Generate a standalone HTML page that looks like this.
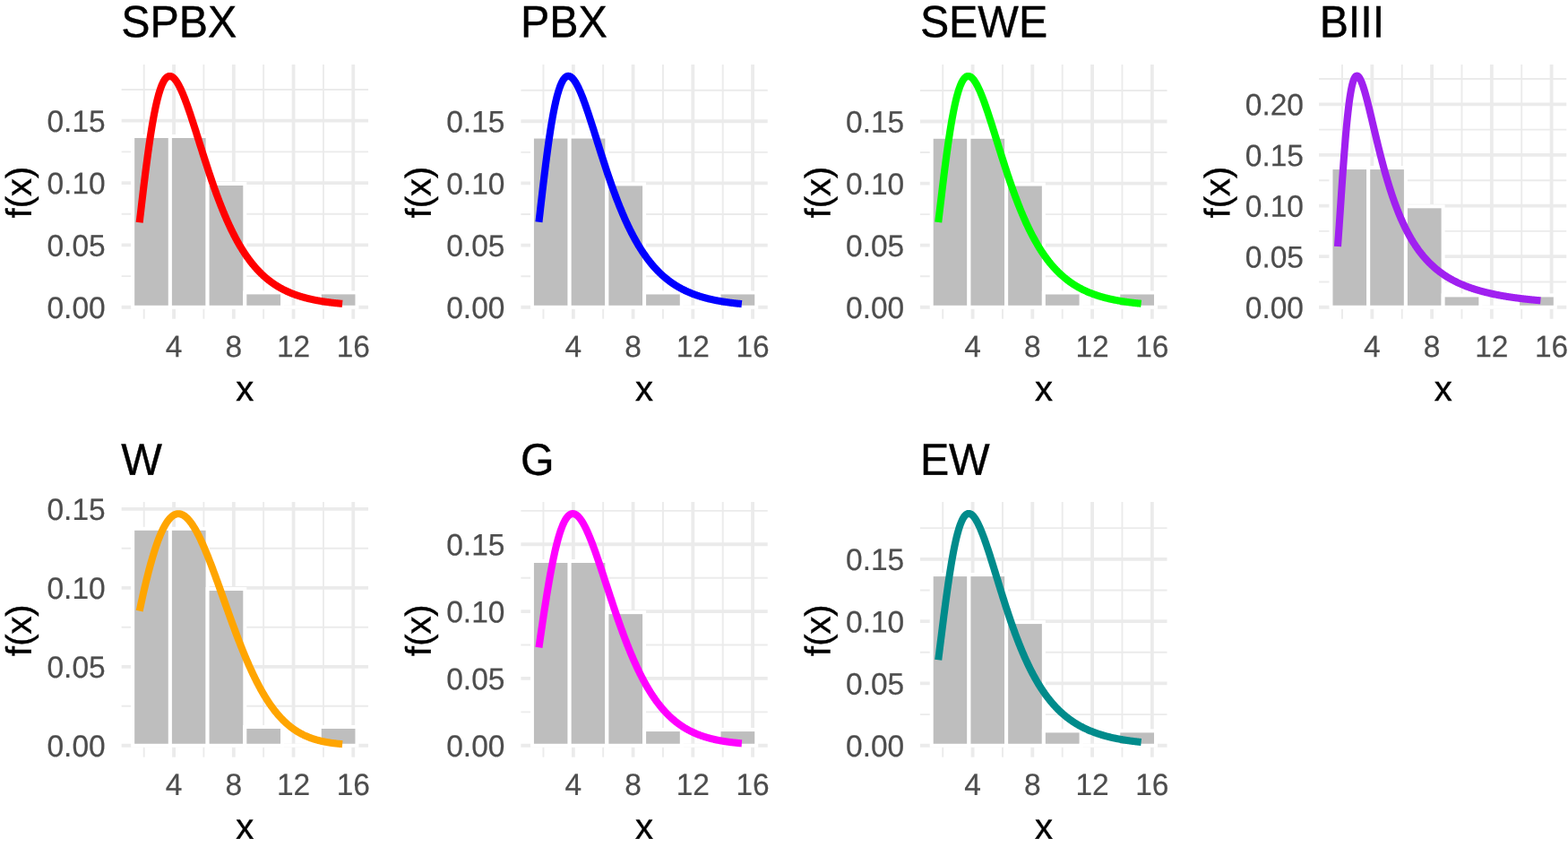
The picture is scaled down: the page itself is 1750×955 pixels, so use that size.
<!DOCTYPE html>
<html lang="en">
<head>
<meta charset="utf-8">
<title>Fitted densities</title>
<style>
html,body{margin:0;padding:0;background:#fff;}
body{width:1750px;height:955px;overflow:hidden;}
svg{display:block;}
text{font-family:"Liberation Sans","DejaVu Sans",sans-serif;}
.t{font-size:48.3px;fill:#000;stroke:#000;stroke-width:0.4px;}
.a{font-size:33.5px;fill:#4D4D4D;stroke:#4D4D4D;stroke-width:0.2px;}
.l{font-size:39.9px;fill:#000;stroke:#000;stroke-width:0.4px;}
</style>
</head>
<body>
<svg width="1750" height="955" viewBox="0 0 1750 955">
<rect width="1750" height="955" fill="#FFFFFF"/>
<g>
<path d="M135.65 308.08H410.97M135.65 238.71H410.97M135.65 169.35H410.97M135.65 99.98H410.97M160.68 72.05V355.65M227.42 72.05V355.65M294.17 72.05V355.65M360.91 72.05V355.65" stroke="#EBEBEB" stroke-width="1.9" fill="none"/>
<path d="M135.65 342.76H410.97M135.65 273.39H410.97M135.65 204.03H410.97M135.65 134.66H410.97M194.05 72.05V355.65M260.79 72.05V355.65M327.54 72.05V355.65M394.28 72.05V355.65" stroke="#EBEBEB" stroke-width="3.8" fill="none"/>
<rect x="148.16" y="152.00" width="41.72" height="190.76" fill="#BEBEBE" stroke="#FFFFFF" stroke-width="4.0"/>
<rect x="189.88" y="152.00" width="41.72" height="190.76" fill="#BEBEBE" stroke="#FFFFFF" stroke-width="4.0"/>
<rect x="231.59" y="205.00" width="41.71" height="137.76" fill="#BEBEBE" stroke="#FFFFFF" stroke-width="4.0"/>
<rect x="273.31" y="326.39" width="41.72" height="16.37" fill="#BEBEBE" stroke="#FFFFFF" stroke-width="4.0"/>
<rect x="356.74" y="326.39" width="41.71" height="16.37" fill="#BEBEBE" stroke="#FFFFFF" stroke-width="4.0"/>
<path d="M315.02 342.76H356.74" stroke="#FFFFFF" stroke-width="4.0" stroke-linecap="square" fill="none"/>
<polyline points="155.67,248.16 156.24,243.35 156.81,238.53 157.37,233.70 157.94,228.88 158.51,224.07 159.08,219.28 159.64,214.52 160.21,209.79 160.78,205.10 161.35,200.46 161.91,195.87 162.48,191.34 163.05,186.88 163.62,182.48 164.18,178.16 164.75,173.91 165.32,169.74 165.89,165.66 166.45,161.67 167.02,157.76 167.59,153.95 168.16,150.24 168.72,146.62 169.29,143.11 169.86,139.69 170.43,136.38 170.99,133.18 171.56,130.08 172.13,127.08 172.70,124.19 173.26,121.41 173.83,118.74 174.40,116.18 174.97,113.72 175.53,111.37 176.10,109.13 176.67,106.99 177.24,104.96 177.80,103.04 178.37,101.22 178.94,99.50 179.51,97.89 180.07,96.38 180.64,94.97 181.21,93.66 181.78,92.45 182.34,91.33 182.91,90.31 183.48,89.38 184.05,88.55 184.61,87.81 185.18,87.15 185.75,86.59 186.32,86.11 186.88,85.71 187.45,85.40 188.02,85.17 188.59,85.02 189.15,84.94 189.72,84.94 190.29,85.02 190.86,85.16 191.42,85.38 191.99,85.67 192.56,86.02 193.13,86.44 193.69,86.92 194.26,87.46 194.83,88.06 195.40,88.72 195.96,89.44 196.53,90.21 197.10,91.03 197.67,91.91 198.23,92.83 198.80,93.80 199.37,94.82 199.94,95.88 200.50,96.99 201.07,98.14 201.64,99.32 202.21,100.55 202.77,101.81 203.34,103.11 203.91,104.44 204.48,105.80 205.04,107.20 205.61,108.62 206.18,110.08 206.75,111.56 207.31,113.06 207.88,114.59 208.45,116.15 209.02,117.72 209.58,119.32 210.15,120.94 210.72,122.57 211.29,124.22 211.85,125.89 212.42,127.57 212.99,129.27 213.56,130.98 214.12,132.71 214.69,134.44 215.26,136.18 215.83,137.94 216.39,139.70 216.96,141.47 217.53,143.25 218.10,145.03 218.66,146.82 219.23,148.61 219.80,150.40 220.37,152.20 220.93,154.00 221.50,155.80 222.07,157.60 222.64,159.41 223.20,161.21 223.77,163.01 224.34,164.81 224.91,166.60 225.47,168.40 226.04,170.19 226.61,171.97 227.18,173.76 227.74,175.53 228.31,177.31 228.88,179.07 229.45,180.83 230.01,182.59 230.58,184.33 231.15,186.07 231.72,187.80 232.28,189.53 232.85,191.24 233.42,192.95 233.99,194.64 234.55,196.33 235.12,198.01 235.69,199.68 236.26,201.34 236.82,202.99 237.39,204.62 237.96,206.25 238.53,207.87 239.09,209.47 239.66,211.07 240.23,212.65 240.80,214.22 241.36,215.78 241.93,217.32 242.50,218.86 243.07,220.38 243.63,221.89 244.20,223.39 244.77,224.87 245.34,226.34 245.90,227.80 246.47,229.25 247.04,230.68 247.61,232.10 248.17,233.51 248.74,234.91 249.31,236.29 249.88,237.66 250.44,239.01 251.01,240.36 251.58,241.69 252.15,243.00 252.71,244.31 253.28,245.60 253.85,246.87 254.42,248.14 254.98,249.39 255.55,250.62 256.12,251.85 256.69,253.06 257.25,254.26 257.82,255.44 258.39,256.62 258.96,257.78 259.52,258.92 260.09,260.06 260.66,261.18 261.23,262.29 261.79,263.38 262.36,264.47 262.93,265.54 263.50,266.60 264.06,267.64 264.63,268.68 265.20,269.70 265.77,270.71 266.33,271.71 266.90,272.69 267.47,273.67 268.04,274.63 268.60,275.58 269.17,276.52 269.74,277.44 270.31,278.36 270.87,279.26 271.44,280.16 272.01,281.04 272.58,281.91 273.14,282.77 273.71,283.62 274.28,284.45 274.85,285.28 275.41,286.10 275.98,286.90 276.55,287.70 277.12,288.48 277.68,289.26 278.25,290.02 278.82,290.78 279.39,291.52 279.95,292.26 280.52,292.98 281.09,293.70 281.66,294.40 282.22,295.10 282.79,295.79 283.36,296.46 283.93,297.13 284.49,297.79 285.06,298.44 285.63,299.08 286.20,299.72 286.76,300.34 287.33,300.96 287.90,301.56 288.47,302.16 289.03,302.75 289.60,303.33 290.17,303.91 290.74,304.47 291.30,305.03 291.87,305.58 292.44,306.12 293.01,306.66 293.57,307.19 294.14,307.71 294.71,308.22 295.28,308.72 295.84,309.22 296.41,309.71 296.98,310.20 297.55,310.67 298.11,311.14 298.68,311.61 299.25,312.06 299.81,312.51 300.38,312.96 300.95,313.40 301.52,313.83 302.08,314.25 302.65,314.67 303.22,315.08 303.79,315.49 304.35,315.89 304.92,316.28 305.49,316.67 306.06,317.06 306.62,317.43 307.19,317.80 307.76,318.17 308.33,318.53 308.89,318.89 309.46,319.24 310.03,319.58 310.60,319.92 311.16,320.26 311.73,320.59 312.30,320.91 312.87,321.24 313.43,321.55 314.00,321.86 314.57,322.17 315.14,322.47 315.70,322.77 316.27,323.06 316.84,323.35 317.41,323.63 317.97,323.91 318.54,324.19 319.11,324.46 319.68,324.73 320.24,324.99 320.81,325.25 321.38,325.51 321.95,325.76 322.51,326.01 323.08,326.25 323.65,326.49 324.22,326.73 324.78,326.96 325.35,327.19 325.92,327.42 326.49,327.64 327.05,327.86 327.62,328.08 328.19,328.29 328.76,328.50 329.32,328.71 329.89,328.91 330.46,329.11 331.03,329.31 331.59,329.50 332.16,329.69 332.73,329.88 333.30,330.07 333.86,330.25 334.43,330.43 335.00,330.61 335.57,330.78 336.13,330.95 336.70,331.12 337.27,331.29 337.84,331.45 338.40,331.62 338.97,331.77 339.54,331.93 340.11,332.09 340.67,332.24 341.24,332.39 341.81,332.53 342.38,332.68 342.94,332.82 343.51,332.96 344.08,333.10 344.65,333.24 345.21,333.37 345.78,333.51 346.35,333.64 346.92,333.77 347.48,333.89 348.05,334.02 348.62,334.14 349.19,334.26 349.75,334.38 350.32,334.50 350.89,334.61 351.46,334.72 352.02,334.84 352.59,334.95 353.16,335.06 353.73,335.16 354.29,335.27 354.86,335.37 355.43,335.47 356.00,335.57 356.56,335.67 357.13,335.77 357.70,335.87 358.27,335.96 358.83,336.05 359.40,336.15 359.97,336.24 360.54,336.32 361.10,336.41 361.67,336.50 362.24,336.58 362.81,336.67 363.37,336.75 363.94,336.83 364.51,336.91 365.08,336.99 365.64,337.07 366.21,337.14 366.78,337.22 367.35,337.29 367.91,337.36 368.48,337.44 369.05,337.51 369.62,337.58 370.18,337.65 370.75,337.71 371.32,337.78 371.89,337.85 372.45,337.91 373.02,337.97 373.59,338.04 374.16,338.10 374.72,338.16 375.29,338.22 375.86,338.28 376.43,338.34 376.99,338.39 377.56,338.45 378.13,338.51 378.70,338.56 379.26,338.61 379.83,338.67 380.40,338.72 380.97,338.77 381.53,338.82 382.10,338.87" fill="none" stroke="#FF0000" stroke-width="8.1" stroke-linejoin="round" stroke-linecap="butt"/>
<text class="t" transform="translate(135.35 41.20) rotate(0.03) scale(1 1.03)">SPBX</text>
<text class="a" text-anchor="end" transform="translate(117.65 355.06) rotate(0.03) scale(1 1.018)">0.00</text>
<text class="a" text-anchor="end" transform="translate(117.65 285.69) rotate(0.03) scale(1 1.018)">0.05</text>
<text class="a" text-anchor="end" transform="translate(117.65 216.33) rotate(0.03) scale(1 1.018)">0.10</text>
<text class="a" text-anchor="end" transform="translate(117.65 146.96) rotate(0.03) scale(1 1.018)">0.15</text>
<text class="a" text-anchor="middle" transform="translate(194.05 398.35) rotate(0.03) scale(1 1.018)">4</text>
<text class="a" text-anchor="middle" transform="translate(260.79 398.35) rotate(0.03) scale(1 1.018)">8</text>
<text class="a" text-anchor="middle" transform="translate(327.54 398.35) rotate(0.03) scale(1 1.018)">12</text>
<text class="a" text-anchor="middle" transform="translate(394.28 398.35) rotate(0.03) scale(1 1.018)">16</text>
<text class="l" text-anchor="middle" transform="translate(273.31 447.05) rotate(0.03) scale(1 1.0)">x</text>
<text class="l" text-anchor="middle" transform="translate(34.85 214.55) rotate(-90.03) scale(1 1.0)">f(x)</text>
</g>
<g>
<path d="M581.42 308.18H856.74M581.42 239.01H856.74M581.42 169.85H856.74M581.42 100.68H856.74M606.45 72.05V355.65M673.19 72.05V355.65M739.94 72.05V355.65M806.68 72.05V355.65" stroke="#EBEBEB" stroke-width="1.9" fill="none"/>
<path d="M581.42 342.76H856.74M581.42 273.59H856.74M581.42 204.43H856.74M581.42 135.27H856.74M639.82 72.05V355.65M706.56 72.05V355.65M773.31 72.05V355.65M840.05 72.05V355.65" stroke="#EBEBEB" stroke-width="3.8" fill="none"/>
<rect x="593.93" y="152.56" width="41.71" height="190.20" fill="#BEBEBE" stroke="#FFFFFF" stroke-width="4.0"/>
<rect x="635.65" y="152.56" width="41.72" height="190.20" fill="#BEBEBE" stroke="#FFFFFF" stroke-width="4.0"/>
<rect x="677.36" y="205.40" width="41.72" height="137.36" fill="#BEBEBE" stroke="#FFFFFF" stroke-width="4.0"/>
<rect x="719.08" y="326.44" width="41.72" height="16.32" fill="#BEBEBE" stroke="#FFFFFF" stroke-width="4.0"/>
<rect x="802.51" y="326.44" width="41.72" height="16.32" fill="#BEBEBE" stroke="#FFFFFF" stroke-width="4.0"/>
<path d="M760.79 342.76H802.51" stroke="#FFFFFF" stroke-width="4.0" stroke-linecap="square" fill="none"/>
<polyline points="601.44,247.74 602.01,242.83 602.58,237.91 603.14,232.97 603.71,228.04 604.28,223.12 604.85,218.23 605.41,213.35 605.98,208.52 606.55,203.72 607.12,198.98 607.68,194.29 608.25,189.66 608.82,185.10 609.39,180.61 609.95,176.20 610.52,171.87 611.09,167.63 611.66,163.48 612.22,159.42 612.79,155.46 613.36,151.60 613.93,147.85 614.49,144.19 615.06,140.65 615.63,137.21 616.20,133.88 616.76,130.66 617.33,127.56 617.90,124.57 618.47,121.69 619.03,118.93 619.60,116.28 620.17,113.74 620.74,111.32 621.30,109.02 621.87,106.82 622.44,104.74 623.01,102.77 623.57,100.91 624.14,99.17 624.71,97.53 625.28,96.00 625.84,94.57 626.41,93.25 626.98,92.03 627.55,90.92 628.11,89.91 628.68,88.99 629.25,88.17 629.82,87.45 630.38,86.82 630.95,86.28 631.52,85.83 632.09,85.47 632.65,85.20 633.22,85.01 633.79,84.90 634.36,84.88 634.92,84.93 635.49,85.05 636.06,85.25 636.63,85.53 637.19,85.87 637.76,86.28 638.33,86.76 638.90,87.30 639.46,87.90 640.03,88.57 640.60,89.29 641.17,90.07 641.73,90.91 642.30,91.80 642.87,92.73 643.44,93.72 644.00,94.76 644.57,95.84 645.14,96.96 645.71,98.13 646.27,99.34 646.84,100.59 647.41,101.87 647.98,103.19 648.54,104.55 649.11,105.94 649.68,107.35 650.25,108.80 650.81,110.28 651.38,111.78 651.95,113.31 652.52,114.86 653.08,116.44 653.65,118.04 654.22,119.66 654.79,121.29 655.35,122.95 655.92,124.62 656.49,126.30 657.06,128.01 657.62,129.72 658.19,131.45 658.76,133.18 659.33,134.93 659.89,136.69 660.46,138.46 661.03,140.23 661.60,142.01 662.16,143.80 662.73,145.59 663.30,147.38 663.87,149.18 664.43,150.98 665.00,152.78 665.57,154.58 666.14,156.39 666.70,158.19 667.27,159.99 667.84,161.80 668.41,163.59 668.97,165.39 669.54,167.18 670.11,168.97 670.68,170.76 671.24,172.54 671.81,174.31 672.38,176.08 672.95,177.85 673.51,179.60 674.08,181.35 674.65,183.10 675.22,184.83 675.78,186.56 676.35,188.28 676.92,189.99 677.49,191.69 678.05,193.38 678.62,195.06 679.19,196.73 679.76,198.39 680.32,200.05 680.89,201.69 681.46,203.32 682.03,204.94 682.59,206.54 683.16,208.14 683.73,209.73 684.30,211.30 684.86,212.86 685.43,214.41 686.00,215.95 686.57,217.47 687.13,218.99 687.70,220.49 688.27,221.98 688.84,223.45 689.40,224.91 689.97,226.36 690.54,227.80 691.11,229.23 691.67,230.64 692.24,232.04 692.81,233.42 693.38,234.80 693.94,236.16 694.51,237.50 695.08,238.84 695.65,240.16 696.21,241.46 696.78,242.76 697.35,244.04 697.92,245.31 698.48,246.56 699.05,247.81 699.62,249.04 700.19,250.25 700.75,251.46 701.32,252.65 701.89,253.83 702.46,254.99 703.02,256.15 703.59,257.29 704.16,258.42 704.73,259.53 705.29,260.63 705.86,261.73 706.43,262.80 707.00,263.87 707.56,264.92 708.13,265.97 708.70,267.00 709.27,268.01 709.83,269.02 710.40,270.01 710.97,271.00 711.54,271.97 712.10,272.93 712.67,273.88 713.24,274.81 713.81,275.74 714.37,276.65 714.94,277.55 715.51,278.45 716.08,279.33 716.64,280.20 717.21,281.06 717.78,281.91 718.35,282.74 718.91,283.57 719.48,284.39 720.05,285.20 720.62,285.99 721.18,286.78 721.75,287.56 722.32,288.33 722.89,289.08 723.45,289.83 724.02,290.57 724.59,291.30 725.16,292.02 725.72,292.73 726.29,293.43 726.86,294.12 727.43,294.80 727.99,295.48 728.56,296.14 729.13,296.80 729.70,297.44 730.26,298.08 730.83,298.71 731.40,299.34 731.97,299.95 732.53,300.55 733.10,301.15 733.67,301.74 734.24,302.32 734.80,302.90 735.37,303.46 735.94,304.02 736.51,304.57 737.07,305.12 737.64,305.65 738.21,306.18 738.78,306.70 739.34,307.22 739.91,307.72 740.48,308.23 741.05,308.72 741.61,309.21 742.18,309.69 742.75,310.16 743.32,310.63 743.88,311.09 744.45,311.54 745.02,311.99 745.58,312.43 746.15,312.87 746.72,313.30 747.29,313.72 747.85,314.14 748.42,314.55 748.99,314.96 749.56,315.36 750.12,315.75 750.69,316.14 751.26,316.52 751.83,316.90 752.39,317.28 752.96,317.64 753.53,318.01 754.10,318.36 754.66,318.72 755.23,319.06 755.80,319.41 756.37,319.74 756.93,320.08 757.50,320.41 758.07,320.73 758.64,321.05 759.20,321.36 759.77,321.67 760.34,321.98 760.91,322.28 761.47,322.58 762.04,322.87 762.61,323.16 763.18,323.44 763.74,323.72 764.31,324.00 764.88,324.27 765.45,324.54 766.01,324.80 766.58,325.07 767.15,325.32 767.72,325.58 768.28,325.83 768.85,326.07 769.42,326.31 769.99,326.55 770.55,326.79 771.12,327.02 771.69,327.25 772.26,327.48 772.82,327.70 773.39,327.92 773.96,328.13 774.53,328.35 775.09,328.56 775.66,328.76 776.23,328.97 776.80,329.17 777.36,329.36 777.93,329.56 778.50,329.75 779.07,329.94 779.63,330.13 780.20,330.31 780.77,330.49 781.34,330.67 781.90,330.85 782.47,331.02 783.04,331.19 783.61,331.36 784.17,331.53 784.74,331.69 785.31,331.85 785.88,332.01 786.44,332.17 787.01,332.32 787.58,332.47 788.15,332.62 788.71,332.77 789.28,332.91 789.85,333.06 790.42,333.20 790.98,333.34 791.55,333.48 792.12,333.61 792.69,333.74 793.25,333.88 793.82,334.00 794.39,334.13 794.96,334.26 795.52,334.38 796.09,334.50 796.66,334.62 797.23,334.74 797.79,334.86 798.36,334.97 798.93,335.09 799.50,335.20 800.06,335.31 800.63,335.42 801.20,335.52 801.77,335.63 802.33,335.73 802.90,335.83 803.47,335.93 804.04,336.03 804.60,336.13 805.17,336.23 805.74,336.32 806.31,336.42 806.87,336.51 807.44,336.60 808.01,336.69 808.58,336.78 809.14,336.86 809.71,336.95 810.28,337.03 810.85,337.12 811.41,337.20 811.98,337.28 812.55,337.36 813.12,337.44 813.68,337.51 814.25,337.59 814.82,337.66 815.39,337.74 815.95,337.81 816.52,337.88 817.09,337.95 817.66,338.02 818.22,338.09 818.79,338.16 819.36,338.23 819.93,338.29 820.49,338.36 821.06,338.42 821.63,338.48 822.20,338.54 822.76,338.61 823.33,338.67 823.90,338.73 824.47,338.78 825.03,338.84 825.60,338.90 826.17,338.95 826.74,339.01 827.30,339.06 827.87,339.12" fill="none" stroke="#0000FF" stroke-width="8.1" stroke-linejoin="round" stroke-linecap="butt"/>
<text class="t" transform="translate(581.12 41.20) rotate(0.03) scale(1 1.03)">PBX</text>
<text class="a" text-anchor="end" transform="translate(563.42 355.06) rotate(0.03) scale(1 1.018)">0.00</text>
<text class="a" text-anchor="end" transform="translate(563.42 285.89) rotate(0.03) scale(1 1.018)">0.05</text>
<text class="a" text-anchor="end" transform="translate(563.42 216.73) rotate(0.03) scale(1 1.018)">0.10</text>
<text class="a" text-anchor="end" transform="translate(563.42 147.57) rotate(0.03) scale(1 1.018)">0.15</text>
<text class="a" text-anchor="middle" transform="translate(639.82 398.35) rotate(0.03) scale(1 1.018)">4</text>
<text class="a" text-anchor="middle" transform="translate(706.56 398.35) rotate(0.03) scale(1 1.018)">8</text>
<text class="a" text-anchor="middle" transform="translate(773.31 398.35) rotate(0.03) scale(1 1.018)">12</text>
<text class="a" text-anchor="middle" transform="translate(840.05 398.35) rotate(0.03) scale(1 1.018)">16</text>
<text class="l" text-anchor="middle" transform="translate(719.08 447.05) rotate(0.03) scale(1 1.0)">x</text>
<text class="l" text-anchor="middle" transform="translate(480.62 214.55) rotate(-90.03) scale(1 1.0)">f(x)</text>
</g>
<g>
<path d="M1026.89 308.22H1302.51M1026.89 239.14H1302.51M1026.89 170.06H1302.51M1026.89 100.98H1302.51M1052.22 72.05V355.65M1118.96 72.05V355.65M1185.71 72.05V355.65M1252.45 72.05V355.65" stroke="#EBEBEB" stroke-width="1.9" fill="none"/>
<path d="M1026.89 342.76H1302.51M1026.89 273.68H1302.51M1026.89 204.60H1302.51M1026.89 135.52H1302.51M1085.59 72.05V355.65M1152.33 72.05V355.65M1219.08 72.05V355.65M1285.82 72.05V355.65" stroke="#EBEBEB" stroke-width="3.8" fill="none"/>
<rect x="1039.70" y="152.79" width="41.72" height="189.97" fill="#BEBEBE" stroke="#FFFFFF" stroke-width="4.0"/>
<rect x="1081.42" y="152.79" width="41.71" height="189.97" fill="#BEBEBE" stroke="#FFFFFF" stroke-width="4.0"/>
<rect x="1123.13" y="205.57" width="41.71" height="137.19" fill="#BEBEBE" stroke="#FFFFFF" stroke-width="4.0"/>
<rect x="1164.85" y="326.46" width="41.72" height="16.30" fill="#BEBEBE" stroke="#FFFFFF" stroke-width="4.0"/>
<rect x="1248.28" y="326.46" width="41.72" height="16.30" fill="#BEBEBE" stroke="#FFFFFF" stroke-width="4.0"/>
<path d="M1206.56 342.76H1248.28" stroke="#FFFFFF" stroke-width="4.0" stroke-linecap="square" fill="none"/>
<polyline points="1047.21,248.01 1047.78,243.26 1048.35,238.50 1048.91,233.73 1049.48,228.95 1050.05,224.19 1050.62,219.43 1051.18,214.70 1051.75,209.99 1052.32,205.32 1052.89,200.69 1053.45,196.11 1054.02,191.58 1054.59,187.11 1055.16,182.71 1055.72,178.37 1056.29,174.11 1056.86,169.92 1057.43,165.82 1057.99,161.80 1058.56,157.87 1059.13,154.03 1059.70,150.28 1060.26,146.64 1060.83,143.09 1061.40,139.64 1061.97,136.30 1062.53,133.06 1063.10,129.92 1063.67,126.90 1064.24,123.98 1064.80,121.17 1065.37,118.47 1065.94,115.88 1066.51,113.40 1067.07,111.03 1067.64,108.77 1068.21,106.61 1068.78,104.57 1069.34,102.64 1069.91,100.81 1070.48,99.09 1071.05,97.47 1071.61,95.96 1072.18,94.55 1072.75,93.25 1073.32,92.05 1073.88,90.94 1074.45,89.94 1075.02,89.03 1075.59,88.22 1076.15,87.50 1076.72,86.88 1077.29,86.34 1077.86,85.89 1078.42,85.53 1078.99,85.26 1079.56,85.07 1080.13,84.96 1080.69,84.93 1081.26,84.98 1081.83,85.10 1082.40,85.30 1082.96,85.57 1083.53,85.91 1084.10,86.32 1084.67,86.79 1085.23,87.33 1085.80,87.93 1086.37,88.60 1086.94,89.32 1087.50,90.10 1088.07,90.93 1088.64,91.82 1089.21,92.76 1089.77,93.75 1090.34,94.79 1090.91,95.87 1091.48,97.00 1092.04,98.17 1092.61,99.38 1093.18,100.63 1093.75,101.92 1094.31,103.25 1094.88,104.61 1095.45,106.01 1096.02,107.43 1096.58,108.89 1097.15,110.38 1097.72,111.89 1098.29,113.43 1098.85,114.99 1099.42,116.58 1099.99,118.19 1100.56,119.82 1101.12,121.47 1101.69,123.14 1102.26,124.82 1102.83,126.53 1103.39,128.24 1103.96,129.97 1104.53,131.71 1105.10,133.47 1105.66,135.23 1106.23,137.01 1106.80,138.79 1107.37,140.58 1107.93,142.38 1108.50,144.18 1109.07,145.99 1109.64,147.80 1110.20,149.62 1110.77,151.44 1111.34,153.26 1111.91,155.08 1112.47,156.90 1113.04,158.72 1113.61,160.54 1114.18,162.36 1114.74,164.18 1115.31,165.99 1115.88,167.81 1116.45,169.61 1117.01,171.42 1117.58,173.21 1118.15,175.01 1118.72,176.79 1119.28,178.57 1119.85,180.35 1120.42,182.11 1120.99,183.87 1121.55,185.62 1122.12,187.37 1122.69,189.10 1123.26,190.82 1123.82,192.54 1124.39,194.25 1124.96,195.94 1125.53,197.63 1126.09,199.30 1126.66,200.97 1127.23,202.62 1127.80,204.26 1128.36,205.90 1128.93,207.52 1129.50,209.12 1130.07,210.72 1130.63,212.30 1131.20,213.88 1131.77,215.44 1132.34,216.98 1132.90,218.52 1133.47,220.04 1134.04,221.55 1134.61,223.04 1135.17,224.53 1135.74,226.00 1136.31,227.45 1136.88,228.90 1137.44,230.33 1138.01,231.74 1138.58,233.15 1139.15,234.54 1139.71,235.92 1140.28,237.28 1140.85,238.63 1141.42,239.97 1141.98,241.29 1142.55,242.60 1143.12,243.90 1143.69,245.18 1144.25,246.45 1144.82,247.71 1145.39,248.95 1145.96,250.18 1146.52,251.40 1147.09,252.60 1147.66,253.79 1148.23,254.97 1148.79,256.13 1149.36,257.28 1149.93,258.42 1150.50,259.55 1151.06,260.66 1151.63,261.76 1152.20,262.85 1152.77,263.92 1153.33,264.98 1153.90,266.03 1154.47,267.07 1155.04,268.09 1155.60,269.11 1156.17,270.11 1156.74,271.10 1157.31,272.07 1157.87,273.04 1158.44,273.99 1159.01,274.93 1159.58,275.86 1160.14,276.78 1160.71,277.69 1161.28,278.58 1161.85,279.47 1162.41,280.34 1162.98,281.20 1163.55,282.05 1164.12,282.89 1164.68,283.72 1165.25,284.54 1165.82,285.35 1166.39,286.15 1166.95,286.94 1167.52,287.72 1168.09,288.48 1168.66,289.24 1169.22,289.99 1169.79,290.73 1170.36,291.46 1170.93,292.17 1171.49,292.88 1172.06,293.58 1172.63,294.27 1173.20,294.96 1173.76,295.63 1174.33,296.29 1174.90,296.94 1175.47,297.59 1176.03,298.23 1176.60,298.86 1177.17,299.47 1177.74,300.09 1178.30,300.69 1178.87,301.28 1179.44,301.87 1180.01,302.45 1180.57,303.02 1181.14,303.58 1181.71,304.14 1182.28,304.69 1182.84,305.23 1183.41,305.76 1183.98,306.28 1184.55,306.80 1185.11,307.31 1185.68,307.81 1186.25,308.31 1186.82,308.80 1187.38,309.28 1187.95,309.76 1188.52,310.23 1189.09,310.69 1189.65,311.15 1190.22,311.60 1190.79,312.04 1191.35,312.48 1191.92,312.91 1192.49,313.33 1193.06,313.75 1193.62,314.17 1194.19,314.57 1194.76,314.97 1195.33,315.37 1195.89,315.76 1196.46,316.14 1197.03,316.52 1197.60,316.90 1198.16,317.27 1198.73,317.63 1199.30,317.99 1199.87,318.34 1200.43,318.69 1201.00,319.03 1201.57,319.37 1202.14,319.70 1202.70,320.03 1203.27,320.35 1203.84,320.67 1204.41,320.98 1204.97,321.29 1205.54,321.60 1206.11,321.90 1206.68,322.20 1207.24,322.49 1207.81,322.78 1208.38,323.06 1208.95,323.34 1209.51,323.62 1210.08,323.89 1210.65,324.16 1211.22,324.42 1211.78,324.68 1212.35,324.94 1212.92,325.19 1213.49,325.44 1214.05,325.68 1214.62,325.92 1215.19,326.16 1215.76,326.40 1216.32,326.63 1216.89,326.86 1217.46,327.08 1218.03,327.30 1218.59,327.52 1219.16,327.74 1219.73,327.95 1220.30,328.16 1220.86,328.36 1221.43,328.57 1222.00,328.77 1222.57,328.96 1223.13,329.16 1223.70,329.35 1224.27,329.54 1224.84,329.72 1225.40,329.91 1225.97,330.09 1226.54,330.26 1227.11,330.44 1227.67,330.61 1228.24,330.78 1228.81,330.95 1229.38,331.11 1229.94,331.28 1230.51,331.44 1231.08,331.60 1231.65,331.75 1232.21,331.91 1232.78,332.06 1233.35,332.21 1233.92,332.35 1234.48,332.50 1235.05,332.64 1235.62,332.78 1236.19,332.92 1236.75,333.06 1237.32,333.19 1237.89,333.32 1238.46,333.45 1239.02,333.58 1239.59,333.71 1240.16,333.83 1240.73,333.96 1241.29,334.08 1241.86,334.20 1242.43,334.32 1243.00,334.43 1243.56,334.55 1244.13,334.66 1244.70,334.77 1245.27,334.88 1245.83,334.99 1246.40,335.10 1246.97,335.20 1247.54,335.31 1248.10,335.41 1248.67,335.51 1249.24,335.61 1249.81,335.70 1250.37,335.80 1250.94,335.90 1251.51,335.99 1252.08,336.08 1252.64,336.17 1253.21,336.26 1253.78,336.35 1254.35,336.44 1254.91,336.52 1255.48,336.61 1256.05,336.69 1256.62,336.77 1257.18,336.85 1257.75,336.93 1258.32,337.01 1258.89,337.09 1259.45,337.17 1260.02,337.24 1260.59,337.31 1261.16,337.39 1261.72,337.46 1262.29,337.53 1262.86,337.60 1263.43,337.67 1263.99,337.74 1264.56,337.81 1265.13,337.87 1265.70,337.94 1266.26,338.00 1266.83,338.06 1267.40,338.13 1267.97,338.19 1268.53,338.25 1269.10,338.31 1269.67,338.37 1270.24,338.43 1270.80,338.48 1271.37,338.54 1271.94,338.59 1272.51,338.65 1273.07,338.70 1273.64,338.76" fill="none" stroke="#00FF00" stroke-width="8.1" stroke-linejoin="round" stroke-linecap="butt"/>
<text class="t" transform="translate(1026.89 41.20) rotate(0.03) scale(1 1.03)">SEWE</text>
<text class="a" text-anchor="end" transform="translate(1009.19 355.06) rotate(0.03) scale(1 1.018)">0.00</text>
<text class="a" text-anchor="end" transform="translate(1009.19 285.98) rotate(0.03) scale(1 1.018)">0.05</text>
<text class="a" text-anchor="end" transform="translate(1009.19 216.90) rotate(0.03) scale(1 1.018)">0.10</text>
<text class="a" text-anchor="end" transform="translate(1009.19 147.82) rotate(0.03) scale(1 1.018)">0.15</text>
<text class="a" text-anchor="middle" transform="translate(1085.59 398.35) rotate(0.03) scale(1 1.018)">4</text>
<text class="a" text-anchor="middle" transform="translate(1152.33 398.35) rotate(0.03) scale(1 1.018)">8</text>
<text class="a" text-anchor="middle" transform="translate(1219.08 398.35) rotate(0.03) scale(1 1.018)">12</text>
<text class="a" text-anchor="middle" transform="translate(1285.82 398.35) rotate(0.03) scale(1 1.018)">16</text>
<text class="l" text-anchor="middle" transform="translate(1164.85 447.05) rotate(0.03) scale(1 1.0)">x</text>
<text class="l" text-anchor="middle" transform="translate(926.39 214.55) rotate(-90.03) scale(1 1.0)">f(x)</text>
</g>
<g>
<path d="M1472.06 314.45H1748.28M1472.06 257.84H1748.28M1472.06 201.22H1748.28M1472.06 144.60H1748.28M1472.06 87.99H1748.28M1497.99 72.05V355.65M1564.73 72.05V355.65M1631.48 72.05V355.65M1698.22 72.05V355.65" stroke="#EBEBEB" stroke-width="1.9" fill="none"/>
<path d="M1472.06 342.76H1748.28M1472.06 286.14H1748.28M1472.06 229.53H1748.28M1472.06 172.91H1748.28M1472.06 116.29H1748.28M1531.36 72.05V355.65M1598.10 72.05V355.65M1664.85 72.05V355.65M1731.59 72.05V355.65" stroke="#EBEBEB" stroke-width="3.8" fill="none"/>
<rect x="1485.47" y="187.06" width="41.72" height="155.69" fill="#BEBEBE" stroke="#FFFFFF" stroke-width="4.0"/>
<rect x="1527.19" y="187.06" width="41.71" height="155.69" fill="#BEBEBE" stroke="#FFFFFF" stroke-width="4.0"/>
<rect x="1568.90" y="230.32" width="41.71" height="112.44" fill="#BEBEBE" stroke="#FFFFFF" stroke-width="4.0"/>
<rect x="1610.62" y="329.40" width="41.72" height="13.36" fill="#BEBEBE" stroke="#FFFFFF" stroke-width="4.0"/>
<rect x="1694.05" y="329.40" width="41.72" height="13.36" fill="#BEBEBE" stroke="#FFFFFF" stroke-width="4.0"/>
<path d="M1652.33 342.76H1694.05" stroke="#FFFFFF" stroke-width="4.0" stroke-linecap="square" fill="none"/>
<polyline points="1492.98,274.94 1493.55,267.26 1494.12,259.33 1494.68,251.21 1495.25,242.96 1495.82,234.61 1496.39,226.23 1496.95,217.86 1497.52,209.55 1498.09,201.33 1498.66,193.25 1499.22,185.35 1499.79,177.66 1500.36,170.20 1500.93,162.99 1501.49,156.08 1502.06,149.45 1502.63,143.15 1503.20,137.17 1503.76,131.52 1504.33,126.21 1504.90,121.24 1505.47,116.61 1506.03,112.33 1506.60,108.39 1507.17,104.78 1507.74,101.50 1508.30,98.55 1508.87,95.91 1509.44,93.57 1510.01,91.53 1510.57,89.78 1511.14,88.30 1511.71,87.08 1512.28,86.12 1512.84,85.41 1513.41,84.92 1513.98,84.66 1514.55,84.60 1515.11,84.74 1515.68,85.07 1516.25,85.57 1516.82,86.24 1517.38,87.07 1517.95,88.04 1518.52,89.15 1519.09,90.39 1519.65,91.74 1520.22,93.21 1520.79,94.78 1521.36,96.44 1521.92,98.19 1522.49,100.02 1523.06,101.93 1523.63,103.90 1524.19,105.93 1524.76,108.01 1525.33,110.15 1525.90,112.33 1526.46,114.55 1527.03,116.80 1527.60,119.08 1528.17,121.39 1528.73,123.72 1529.30,126.07 1529.87,128.43 1530.44,130.81 1531.00,133.19 1531.57,135.58 1532.14,137.98 1532.71,140.37 1533.27,142.76 1533.84,145.15 1534.41,147.54 1534.98,149.91 1535.54,152.28 1536.11,154.64 1536.68,156.98 1537.25,159.31 1537.81,161.63 1538.38,163.93 1538.95,166.21 1539.52,168.48 1540.08,170.73 1540.65,172.96 1541.22,175.16 1541.79,177.35 1542.35,179.52 1542.92,181.66 1543.49,183.78 1544.06,185.88 1544.62,187.96 1545.19,190.01 1545.76,192.04 1546.33,194.04 1546.89,196.03 1547.46,197.98 1548.03,199.92 1548.60,201.83 1549.16,203.71 1549.73,205.57 1550.30,207.41 1550.87,209.22 1551.43,211.01 1552.00,212.78 1552.57,214.52 1553.14,216.24 1553.70,217.93 1554.27,219.60 1554.84,221.25 1555.41,222.87 1555.97,224.47 1556.54,226.05 1557.11,227.61 1557.68,229.14 1558.24,230.65 1558.81,232.14 1559.38,233.61 1559.95,235.06 1560.51,236.48 1561.08,237.89 1561.65,239.27 1562.22,240.64 1562.78,241.98 1563.35,243.30 1563.92,244.61 1564.49,245.89 1565.05,247.16 1565.62,248.40 1566.19,249.63 1566.76,250.84 1567.32,252.03 1567.89,253.20 1568.46,254.36 1569.03,255.50 1569.59,256.62 1570.16,257.72 1570.73,258.81 1571.30,259.88 1571.86,260.94 1572.43,261.98 1573.00,263.00 1573.57,264.01 1574.13,265.01 1574.70,265.98 1575.27,266.95 1575.84,267.90 1576.40,268.83 1576.97,269.76 1577.54,270.66 1578.11,271.56 1578.67,272.44 1579.24,273.30 1579.81,274.16 1580.38,275.00 1580.94,275.83 1581.51,276.65 1582.08,277.45 1582.65,278.25 1583.21,279.03 1583.78,279.80 1584.35,280.56 1584.92,281.30 1585.48,282.04 1586.05,282.76 1586.62,283.48 1587.19,284.18 1587.75,284.88 1588.32,285.56 1588.89,286.24 1589.46,286.90 1590.02,287.55 1590.59,288.20 1591.16,288.83 1591.73,289.46 1592.29,290.08 1592.86,290.69 1593.43,291.29 1594.00,291.88 1594.56,292.46 1595.13,293.04 1595.70,293.60 1596.27,294.16 1596.83,294.71 1597.40,295.25 1597.97,295.79 1598.54,296.32 1599.10,296.84 1599.67,297.35 1600.24,297.86 1600.81,298.35 1601.37,298.85 1601.94,299.33 1602.51,299.81 1603.08,300.28 1603.64,300.75 1604.21,301.20 1604.78,301.66 1605.35,302.10 1605.91,302.54 1606.48,302.98 1607.05,303.41 1607.62,303.83 1608.18,304.24 1608.75,304.65 1609.32,305.06 1609.89,305.46 1610.45,305.85 1611.02,306.24 1611.59,306.63 1612.16,307.01 1612.72,307.38 1613.29,307.75 1613.86,308.11 1614.43,308.47 1614.99,308.83 1615.56,309.18 1616.13,309.52 1616.70,309.86 1617.26,310.20 1617.83,310.53 1618.40,310.86 1618.97,311.18 1619.53,311.50 1620.10,311.82 1620.67,312.13 1621.24,312.44 1621.80,312.74 1622.37,313.04 1622.94,313.33 1623.51,313.63 1624.07,313.91 1624.64,314.20 1625.21,314.48 1625.78,314.76 1626.34,315.03 1626.91,315.30 1627.48,315.57 1628.05,315.83 1628.61,316.09 1629.18,316.35 1629.75,316.60 1630.32,316.85 1630.88,317.10 1631.45,317.35 1632.02,317.59 1632.59,317.83 1633.15,318.06 1633.72,318.30 1634.29,318.53 1634.86,318.75 1635.42,318.98 1635.99,319.20 1636.56,319.42 1637.12,319.64 1637.69,319.85 1638.26,320.06 1638.83,320.27 1639.39,320.48 1639.96,320.68 1640.53,320.88 1641.10,321.08 1641.66,321.28 1642.23,321.47 1642.80,321.67 1643.37,321.86 1643.93,322.05 1644.50,322.23 1645.07,322.41 1645.64,322.60 1646.20,322.78 1646.77,322.95 1647.34,323.13 1647.91,323.30 1648.47,323.47 1649.04,323.64 1649.61,323.81 1650.18,323.98 1650.74,324.14 1651.31,324.30 1651.88,324.46 1652.45,324.62 1653.01,324.78 1653.58,324.93 1654.15,325.08 1654.72,325.24 1655.28,325.39 1655.85,325.53 1656.42,325.68 1656.99,325.82 1657.55,325.97 1658.12,326.11 1658.69,326.25 1659.26,326.39 1659.82,326.52 1660.39,326.66 1660.96,326.79 1661.53,326.93 1662.09,327.06 1662.66,327.19 1663.23,327.32 1663.80,327.44 1664.36,327.57 1664.93,327.69 1665.50,327.82 1666.07,327.94 1666.63,328.06 1667.20,328.18 1667.77,328.30 1668.34,328.41 1668.90,328.53 1669.47,328.64 1670.04,328.76 1670.61,328.87 1671.17,328.98 1671.74,329.09 1672.31,329.20 1672.88,329.30 1673.44,329.41 1674.01,329.51 1674.58,329.62 1675.15,329.72 1675.71,329.82 1676.28,329.92 1676.85,330.02 1677.42,330.12 1677.98,330.22 1678.55,330.32 1679.12,330.41 1679.69,330.51 1680.25,330.60 1680.82,330.70 1681.39,330.79 1681.96,330.88 1682.52,330.97 1683.09,331.06 1683.66,331.15 1684.23,331.24 1684.79,331.32 1685.36,331.41 1685.93,331.49 1686.50,331.58 1687.06,331.66 1687.63,331.74 1688.20,331.83 1688.77,331.91 1689.33,331.99 1689.90,332.07 1690.47,332.15 1691.04,332.22 1691.60,332.30 1692.17,332.38 1692.74,332.45 1693.31,332.53 1693.87,332.60 1694.44,332.68 1695.01,332.75 1695.58,332.82 1696.14,332.89 1696.71,332.96 1697.28,333.03 1697.85,333.10 1698.41,333.17 1698.98,333.24 1699.55,333.31 1700.12,333.37 1700.68,333.44 1701.25,333.51 1701.82,333.57 1702.39,333.64 1702.95,333.70 1703.52,333.76 1704.09,333.83 1704.66,333.89 1705.22,333.95 1705.79,334.01 1706.36,334.07 1706.93,334.13 1707.49,334.19 1708.06,334.25 1708.63,334.31 1709.20,334.37 1709.76,334.42 1710.33,334.48 1710.90,334.54 1711.47,334.59 1712.03,334.65 1712.60,334.70 1713.17,334.76 1713.74,334.81 1714.30,334.87 1714.87,334.92 1715.44,334.97 1716.01,335.02 1716.57,335.07 1717.14,335.13 1717.71,335.18 1718.28,335.23 1718.84,335.28 1719.41,335.33" fill="none" stroke="#A020F0" stroke-width="8.1" stroke-linejoin="round" stroke-linecap="butt"/>
<text class="t" transform="translate(1472.66 41.20) rotate(0.03) scale(1 1.03)">BIII</text>
<text class="a" text-anchor="end" transform="translate(1454.96 355.06) rotate(0.03) scale(1 1.018)">0.00</text>
<text class="a" text-anchor="end" transform="translate(1454.96 298.44) rotate(0.03) scale(1 1.018)">0.05</text>
<text class="a" text-anchor="end" transform="translate(1454.96 241.83) rotate(0.03) scale(1 1.018)">0.10</text>
<text class="a" text-anchor="end" transform="translate(1454.96 185.21) rotate(0.03) scale(1 1.018)">0.15</text>
<text class="a" text-anchor="end" transform="translate(1454.96 128.59) rotate(0.03) scale(1 1.018)">0.20</text>
<text class="a" text-anchor="middle" transform="translate(1531.36 398.35) rotate(0.03) scale(1 1.018)">4</text>
<text class="a" text-anchor="middle" transform="translate(1598.10 398.35) rotate(0.03) scale(1 1.018)">8</text>
<text class="a" text-anchor="middle" transform="translate(1664.85 398.35) rotate(0.03) scale(1 1.018)">12</text>
<text class="a" text-anchor="middle" transform="translate(1731.59 398.35) rotate(0.03) scale(1 1.018)">16</text>
<text class="l" text-anchor="middle" transform="translate(1610.62 447.05) rotate(0.03) scale(1 1.0)">x</text>
<text class="l" text-anchor="middle" transform="translate(1372.16 214.55) rotate(-90.03) scale(1 1.0)">f(x)</text>
</g>
<g>
<path d="M135.65 787.77H410.97M135.65 699.79H410.97M135.65 611.81H410.97M160.68 560.00V844.70M227.42 560.00V844.70M294.17 560.00V844.70M360.91 560.00V844.70" stroke="#EBEBEB" stroke-width="1.9" fill="none"/>
<path d="M135.65 831.76H410.97M135.65 743.78H410.97M135.65 655.80H410.97M135.65 567.82H410.97M194.05 560.00V844.70M260.79 560.00V844.70M327.54 560.00V844.70M394.28 560.00V844.70" stroke="#EBEBEB" stroke-width="3.8" fill="none"/>
<rect x="148.16" y="589.82" width="41.72" height="241.94" fill="#BEBEBE" stroke="#FFFFFF" stroke-width="4.0"/>
<rect x="189.88" y="589.82" width="41.72" height="241.94" fill="#BEBEBE" stroke="#FFFFFF" stroke-width="4.0"/>
<rect x="231.59" y="657.03" width="41.71" height="174.73" fill="#BEBEBE" stroke="#FFFFFF" stroke-width="4.0"/>
<rect x="273.31" y="811.00" width="41.72" height="20.76" fill="#BEBEBE" stroke="#FFFFFF" stroke-width="4.0"/>
<rect x="356.74" y="811.00" width="41.71" height="20.76" fill="#BEBEBE" stroke="#FFFFFF" stroke-width="4.0"/>
<path d="M315.02 831.76H356.74" stroke="#FFFFFF" stroke-width="4.0" stroke-linecap="square" fill="none"/>
<polyline points="155.67,681.70 156.24,679.01 156.81,676.35 157.37,673.71 157.94,671.09 158.51,668.50 159.08,665.94 159.64,663.41 160.21,660.91 160.78,658.43 161.35,655.99 161.91,653.57 162.48,651.18 163.05,648.83 163.62,646.51 164.18,644.21 164.75,641.95 165.32,639.72 165.89,637.53 166.45,635.37 167.02,633.24 167.59,631.14 168.16,629.08 168.72,627.05 169.29,625.06 169.86,623.11 170.43,621.18 170.99,619.30 171.56,617.45 172.13,615.63 172.70,613.86 173.26,612.12 173.83,610.41 174.40,608.74 174.97,607.11 175.53,605.52 176.10,603.97 176.67,602.45 177.24,600.97 177.80,599.53 178.37,598.13 178.94,596.76 179.51,595.44 180.07,594.15 180.64,592.90 181.21,591.69 181.78,590.52 182.34,589.39 182.91,588.29 183.48,587.24 184.05,586.22 184.61,585.24 185.18,584.30 185.75,583.40 186.32,582.54 186.88,581.72 187.45,580.93 188.02,580.19 188.59,579.48 189.15,578.81 189.72,578.18 190.29,577.59 190.86,577.04 191.42,576.52 191.99,576.05 192.56,575.61 193.13,575.20 193.69,574.84 194.26,574.51 194.83,574.22 195.40,573.97 195.96,573.75 196.53,573.57 197.10,573.42 197.67,573.32 198.23,573.24 198.80,573.21 199.37,573.20 199.94,573.24 200.50,573.30 201.07,573.41 201.64,573.54 202.21,573.71 202.77,573.92 203.34,574.15 203.91,574.42 204.48,574.73 205.04,575.06 205.61,575.43 206.18,575.83 206.75,576.26 207.31,576.72 207.88,577.21 208.45,577.73 209.02,578.28 209.58,578.87 210.15,579.48 210.72,580.11 211.29,580.78 211.85,581.48 212.42,582.20 212.99,582.95 213.56,583.73 214.12,584.53 214.69,585.36 215.26,586.21 215.83,587.09 216.39,588.00 216.96,588.92 217.53,589.88 218.10,590.85 218.66,591.85 219.23,592.87 219.80,593.92 220.37,594.98 220.93,596.07 221.50,597.17 222.07,598.30 222.64,599.45 223.20,600.61 223.77,601.80 224.34,603.00 224.91,604.22 225.47,605.46 226.04,606.72 226.61,607.99 227.18,609.28 227.74,610.59 228.31,611.91 228.88,613.25 229.45,614.60 230.01,615.96 230.58,617.34 231.15,618.73 231.72,620.14 232.28,621.55 232.85,622.98 233.42,624.42 233.99,625.87 234.55,627.33 235.12,628.80 235.69,630.28 236.26,631.77 236.82,633.27 237.39,634.78 237.96,636.30 238.53,637.82 239.09,639.35 239.66,640.89 240.23,642.43 240.80,643.98 241.36,645.54 241.93,647.10 242.50,648.66 243.07,650.23 243.63,651.81 244.20,653.38 244.77,654.96 245.34,656.55 245.90,658.13 246.47,659.72 247.04,661.31 247.61,662.90 248.17,664.50 248.74,666.09 249.31,667.68 249.88,669.28 250.44,670.87 251.01,672.46 251.58,674.06 252.15,675.65 252.71,677.24 253.28,678.82 253.85,680.41 254.42,681.99 254.98,683.57 255.55,685.15 256.12,686.72 256.69,688.29 257.25,689.86 257.82,691.42 258.39,692.98 258.96,694.53 259.52,696.08 260.09,697.62 260.66,699.16 261.23,700.69 261.79,702.22 262.36,703.74 262.93,705.25 263.50,706.76 264.06,708.26 264.63,709.75 265.20,711.24 265.77,712.72 266.33,714.19 266.90,715.65 267.47,717.11 268.04,718.56 268.60,720.00 269.17,721.43 269.74,722.85 270.31,724.27 270.87,725.67 271.44,727.07 272.01,728.45 272.58,729.83 273.14,731.20 273.71,732.56 274.28,733.91 274.85,735.24 275.41,736.57 275.98,737.89 276.55,739.20 277.12,740.50 277.68,741.79 278.25,743.07 278.82,744.33 279.39,745.59 279.95,746.84 280.52,748.07 281.09,749.30 281.66,750.51 282.22,751.71 282.79,752.91 283.36,754.09 283.93,755.26 284.49,756.42 285.06,757.56 285.63,758.70 286.20,759.83 286.76,760.94 287.33,762.04 287.90,763.14 288.47,764.22 289.03,765.29 289.60,766.34 290.17,767.39 290.74,768.43 291.30,769.45 291.87,770.46 292.44,771.46 293.01,772.46 293.57,773.43 294.14,774.40 294.71,775.36 295.28,776.30 295.84,777.24 296.41,778.16 296.98,779.07 297.55,779.97 298.11,780.86 298.68,781.74 299.25,782.61 299.81,783.47 300.38,784.31 300.95,785.15 301.52,785.97 302.08,786.78 302.65,787.59 303.22,788.38 303.79,789.16 304.35,789.93 304.92,790.69 305.49,791.44 306.06,792.18 306.62,792.91 307.19,793.63 307.76,794.34 308.33,795.04 308.89,795.72 309.46,796.40 310.03,797.07 310.60,797.73 311.16,798.38 311.73,799.02 312.30,799.65 312.87,800.27 313.43,800.88 314.00,801.48 314.57,802.08 315.14,802.66 315.70,803.24 316.27,803.80 316.84,804.36 317.41,804.90 317.97,805.44 318.54,805.97 319.11,806.50 319.68,807.01 320.24,807.51 320.81,808.01 321.38,808.50 321.95,808.98 322.51,809.45 323.08,809.91 323.65,810.37 324.22,810.82 324.78,811.26 325.35,811.69 325.92,812.12 326.49,812.54 327.05,812.95 327.62,813.35 328.19,813.75 328.76,814.14 329.32,814.52 329.89,814.89 330.46,815.26 331.03,815.62 331.59,815.98 332.16,816.33 332.73,816.67 333.30,817.00 333.86,817.33 334.43,817.66 335.00,817.97 335.57,818.29 336.13,818.59 336.70,818.89 337.27,819.18 337.84,819.47 338.40,819.75 338.97,820.03 339.54,820.30 340.11,820.57 340.67,820.83 341.24,821.08 341.81,821.33 342.38,821.58 342.94,821.82 343.51,822.06 344.08,822.29 344.65,822.51 345.21,822.73 345.78,822.95 346.35,823.16 346.92,823.37 347.48,823.57 348.05,823.77 348.62,823.97 349.19,824.16 349.75,824.35 350.32,824.53 350.89,824.71 351.46,824.88 352.02,825.05 352.59,825.22 353.16,825.38 353.73,825.54 354.29,825.70 354.86,825.85 355.43,826.00 356.00,826.15 356.56,826.29 357.13,826.43 357.70,826.57 358.27,826.70 358.83,826.83 359.40,826.96 359.97,827.09 360.54,827.21 361.10,827.33 361.67,827.44 362.24,827.56 362.81,827.67 363.37,827.78 363.94,827.88 364.51,827.99 365.08,828.09 365.64,828.18 366.21,828.28 366.78,828.37 367.35,828.47 367.91,828.55 368.48,828.64 369.05,828.73 369.62,828.81 370.18,828.89 370.75,828.97 371.32,829.05 371.89,829.12 372.45,829.19 373.02,829.27 373.59,829.34 374.16,829.40 374.72,829.47 375.29,829.53 375.86,829.60 376.43,829.66 376.99,829.72 377.56,829.77 378.13,829.83 378.70,829.89 379.26,829.94 379.83,829.99 380.40,830.04 380.97,830.09 381.53,830.14 382.10,830.19" fill="none" stroke="#FFA500" stroke-width="8.1" stroke-linejoin="round" stroke-linecap="butt"/>
<text class="t" transform="translate(135.35 529.80) rotate(0.03) scale(1 1.03)">W</text>
<text class="a" text-anchor="end" transform="translate(117.65 844.06) rotate(0.03) scale(1 1.018)">0.00</text>
<text class="a" text-anchor="end" transform="translate(117.65 756.08) rotate(0.03) scale(1 1.018)">0.05</text>
<text class="a" text-anchor="end" transform="translate(117.65 668.10) rotate(0.03) scale(1 1.018)">0.10</text>
<text class="a" text-anchor="end" transform="translate(117.65 580.12) rotate(0.03) scale(1 1.018)">0.15</text>
<text class="a" text-anchor="middle" transform="translate(194.05 886.95) rotate(0.03) scale(1 1.018)">4</text>
<text class="a" text-anchor="middle" transform="translate(260.79 886.95) rotate(0.03) scale(1 1.018)">8</text>
<text class="a" text-anchor="middle" transform="translate(327.54 886.95) rotate(0.03) scale(1 1.018)">12</text>
<text class="a" text-anchor="middle" transform="translate(394.28 886.95) rotate(0.03) scale(1 1.018)">16</text>
<text class="l" text-anchor="middle" transform="translate(273.31 935.65) rotate(0.03) scale(1 1.0)">x</text>
<text class="l" text-anchor="middle" transform="translate(34.85 703.15) rotate(-90.03) scale(1 1.0)">f(x)</text>
</g>
<g>
<path d="M581.42 794.34H856.74M581.42 719.52H856.74M581.42 644.69H856.74M581.42 569.86H856.74M606.45 560.00V844.70M673.19 560.00V844.70M739.94 560.00V844.70M806.68 560.00V844.70" stroke="#EBEBEB" stroke-width="1.9" fill="none"/>
<path d="M581.42 831.76H856.74M581.42 756.93H856.74M581.42 682.10H856.74M581.42 607.27H856.74M639.82 560.00V844.70M706.56 560.00V844.70M773.31 560.00V844.70M840.05 560.00V844.70" stroke="#EBEBEB" stroke-width="3.8" fill="none"/>
<rect x="593.93" y="625.98" width="41.71" height="205.78" fill="#BEBEBE" stroke="#FFFFFF" stroke-width="4.0"/>
<rect x="635.65" y="625.98" width="41.72" height="205.78" fill="#BEBEBE" stroke="#FFFFFF" stroke-width="4.0"/>
<rect x="677.36" y="683.15" width="41.72" height="148.61" fill="#BEBEBE" stroke="#FFFFFF" stroke-width="4.0"/>
<rect x="719.08" y="814.10" width="41.72" height="17.66" fill="#BEBEBE" stroke="#FFFFFF" stroke-width="4.0"/>
<rect x="802.51" y="814.10" width="41.72" height="17.66" fill="#BEBEBE" stroke="#FFFFFF" stroke-width="4.0"/>
<path d="M760.79 831.76H802.51" stroke="#FFFFFF" stroke-width="4.0" stroke-linecap="square" fill="none"/>
<polyline points="601.44,722.37 602.01,718.47 602.58,714.58 603.14,710.68 603.71,706.80 604.28,702.93 604.85,699.08 605.41,695.25 605.98,691.44 606.55,687.66 607.12,683.91 607.68,680.19 608.25,676.51 608.82,672.87 609.39,669.28 609.95,665.72 610.52,662.22 611.09,658.76 611.66,655.36 612.22,652.01 612.79,648.72 613.36,645.49 613.93,642.32 614.49,639.21 615.06,636.16 615.63,633.17 616.20,630.26 616.76,627.41 617.33,624.63 617.90,621.92 618.47,619.28 619.03,616.71 619.60,614.21 620.17,611.79 620.74,609.44 621.30,607.17 621.87,604.97 622.44,602.84 623.01,600.79 623.57,598.82 624.14,596.92 624.71,595.09 625.28,593.35 625.84,591.67 626.41,590.08 626.98,588.56 627.55,587.11 628.11,585.74 628.68,584.44 629.25,583.22 629.82,582.07 630.38,580.99 630.95,579.98 631.52,579.05 632.09,578.19 632.65,577.40 633.22,576.67 633.79,576.02 634.36,575.44 634.92,574.92 635.49,574.47 636.06,574.08 636.63,573.76 637.19,573.50 637.76,573.31 638.33,573.18 638.90,573.11 639.46,573.10 640.03,573.14 640.60,573.25 641.17,573.41 641.73,573.63 642.30,573.90 642.87,574.23 643.44,574.61 644.00,575.04 644.57,575.52 645.14,576.05 645.71,576.63 646.27,577.25 646.84,577.92 647.41,578.64 647.98,579.40 648.54,580.20 649.11,581.05 649.68,581.93 650.25,582.86 650.81,583.82 651.38,584.82 651.95,585.86 652.52,586.93 653.08,588.04 653.65,589.18 654.22,590.35 654.79,591.55 655.35,592.78 655.92,594.04 656.49,595.33 657.06,596.65 657.62,597.99 658.19,599.36 658.76,600.75 659.33,602.16 659.89,603.60 660.46,605.05 661.03,606.53 661.60,608.03 662.16,609.54 662.73,611.08 663.30,612.63 663.87,614.19 664.43,615.77 665.00,617.37 665.57,618.98 666.14,620.60 666.70,622.23 667.27,623.88 667.84,625.53 668.41,627.20 668.97,628.87 669.54,630.55 670.11,632.24 670.68,633.94 671.24,635.64 671.81,637.35 672.38,639.06 672.95,640.78 673.51,642.50 674.08,644.23 674.65,645.95 675.22,647.68 675.78,649.41 676.35,651.15 676.92,652.88 677.49,654.61 678.05,656.34 678.62,658.07 679.19,659.80 679.76,661.53 680.32,663.25 680.89,664.97 681.46,666.69 682.03,668.40 682.59,670.11 683.16,671.82 683.73,673.52 684.30,675.21 684.86,676.90 685.43,678.59 686.00,680.26 686.57,681.94 687.13,683.60 687.70,685.26 688.27,686.91 688.84,688.55 689.40,690.18 689.97,691.81 690.54,693.42 691.11,695.03 691.67,696.63 692.24,698.22 692.81,699.80 693.38,701.37 693.94,702.93 694.51,704.49 695.08,706.03 695.65,707.56 696.21,709.08 696.78,710.59 697.35,712.09 697.92,713.58 698.48,715.05 699.05,716.52 699.62,717.97 700.19,719.42 700.75,720.85 701.32,722.27 701.89,723.68 702.46,725.08 703.02,726.46 703.59,727.84 704.16,729.20 704.73,730.55 705.29,731.89 705.86,733.21 706.43,734.53 707.00,735.83 707.56,737.12 708.13,738.40 708.70,739.66 709.27,740.92 709.83,742.16 710.40,743.38 710.97,744.60 711.54,745.81 712.10,747.00 712.67,748.18 713.24,749.35 713.81,750.50 714.37,751.65 714.94,752.78 715.51,753.90 716.08,755.00 716.64,756.10 717.21,757.18 717.78,758.25 718.35,759.31 718.91,760.36 719.48,761.40 720.05,762.42 720.62,763.43 721.18,764.43 721.75,765.42 722.32,766.40 722.89,767.36 723.45,768.32 724.02,769.26 724.59,770.19 725.16,771.11 725.72,772.02 726.29,772.92 726.86,773.81 727.43,774.68 727.99,775.55 728.56,776.40 729.13,777.25 729.70,778.08 730.26,778.90 730.83,779.72 731.40,780.52 731.97,781.31 732.53,782.09 733.10,782.86 733.67,783.62 734.24,784.37 734.80,785.11 735.37,785.84 735.94,786.57 736.51,787.28 737.07,787.98 737.64,788.67 738.21,789.36 738.78,790.03 739.34,790.69 739.91,791.35 740.48,792.00 741.05,792.63 741.61,793.26 742.18,793.88 742.75,794.49 743.32,795.10 743.88,795.69 744.45,796.28 745.02,796.86 745.58,797.42 746.15,797.99 746.72,798.54 747.29,799.08 747.85,799.62 748.42,800.15 748.99,800.67 749.56,801.19 750.12,801.69 750.69,802.19 751.26,802.68 751.83,803.17 752.39,803.65 752.96,804.12 753.53,804.58 754.10,805.04 754.66,805.49 755.23,805.93 755.80,806.36 756.37,806.79 756.93,807.22 757.50,807.63 758.07,808.04 758.64,808.45 759.20,808.84 759.77,809.24 760.34,809.62 760.91,810.00 761.47,810.37 762.04,810.74 762.61,811.10 763.18,811.46 763.74,811.81 764.31,812.16 764.88,812.49 765.45,812.83 766.01,813.16 766.58,813.48 767.15,813.80 767.72,814.11 768.28,814.42 768.85,814.73 769.42,815.03 769.99,815.32 770.55,815.61 771.12,815.89 771.69,816.17 772.26,816.45 772.82,816.72 773.39,816.99 773.96,817.25 774.53,817.51 775.09,817.76 775.66,818.01 776.23,818.25 776.80,818.49 777.36,818.73 777.93,818.97 778.50,819.19 779.07,819.42 779.63,819.64 780.20,819.86 780.77,820.07 781.34,820.29 781.90,820.49 782.47,820.70 783.04,820.90 783.61,821.09 784.17,821.29 784.74,821.48 785.31,821.67 785.88,821.85 786.44,822.03 787.01,822.21 787.58,822.38 788.15,822.55 788.71,822.72 789.28,822.89 789.85,823.05 790.42,823.21 790.98,823.37 791.55,823.52 792.12,823.68 792.69,823.83 793.25,823.97 793.82,824.12 794.39,824.26 794.96,824.40 795.52,824.53 796.09,824.67 796.66,824.80 797.23,824.93 797.79,825.06 798.36,825.18 798.93,825.31 799.50,825.43 800.06,825.55 800.63,825.66 801.20,825.78 801.77,825.89 802.33,826.00 802.90,826.11 803.47,826.21 804.04,826.32 804.60,826.42 805.17,826.52 805.74,826.62 806.31,826.72 806.87,826.81 807.44,826.91 808.01,827.00 808.58,827.09 809.14,827.18 809.71,827.27 810.28,827.35 810.85,827.44 811.41,827.52 811.98,827.60 812.55,827.68 813.12,827.76 813.68,827.83 814.25,827.91 814.82,827.98 815.39,828.06 815.95,828.13 816.52,828.20 817.09,828.27 817.66,828.33 818.22,828.40 818.79,828.46 819.36,828.53 819.93,828.59 820.49,828.65 821.06,828.71 821.63,828.77 822.20,828.83 822.76,828.89 823.33,828.94 823.90,829.00 824.47,829.05 825.03,829.10 825.60,829.16 826.17,829.21 826.74,829.26 827.30,829.31 827.87,829.35" fill="none" stroke="#FF00FF" stroke-width="8.1" stroke-linejoin="round" stroke-linecap="butt"/>
<text class="t" transform="translate(581.12 529.80) rotate(0.03) scale(1 1.03)">G</text>
<text class="a" text-anchor="end" transform="translate(563.42 844.06) rotate(0.03) scale(1 1.018)">0.00</text>
<text class="a" text-anchor="end" transform="translate(563.42 769.23) rotate(0.03) scale(1 1.018)">0.05</text>
<text class="a" text-anchor="end" transform="translate(563.42 694.40) rotate(0.03) scale(1 1.018)">0.10</text>
<text class="a" text-anchor="end" transform="translate(563.42 619.57) rotate(0.03) scale(1 1.018)">0.15</text>
<text class="a" text-anchor="middle" transform="translate(639.82 886.95) rotate(0.03) scale(1 1.018)">4</text>
<text class="a" text-anchor="middle" transform="translate(706.56 886.95) rotate(0.03) scale(1 1.018)">8</text>
<text class="a" text-anchor="middle" transform="translate(773.31 886.95) rotate(0.03) scale(1 1.018)">12</text>
<text class="a" text-anchor="middle" transform="translate(840.05 886.95) rotate(0.03) scale(1 1.018)">16</text>
<text class="l" text-anchor="middle" transform="translate(719.08 935.65) rotate(0.03) scale(1 1.0)">x</text>
<text class="l" text-anchor="middle" transform="translate(480.62 703.15) rotate(-90.03) scale(1 1.0)">f(x)</text>
</g>
<g>
<path d="M1026.89 797.10H1302.51M1026.89 727.77H1302.51M1026.89 658.45H1302.51M1026.89 589.12H1302.51M1052.22 560.00V844.70M1118.96 560.00V844.70M1185.71 560.00V844.70M1252.45 560.00V844.70" stroke="#EBEBEB" stroke-width="1.9" fill="none"/>
<path d="M1026.89 831.76H1302.51M1026.89 762.43H1302.51M1026.89 693.11H1302.51M1026.89 623.78H1302.51M1085.59 560.00V844.70M1152.33 560.00V844.70M1219.08 560.00V844.70M1285.82 560.00V844.70" stroke="#EBEBEB" stroke-width="3.8" fill="none"/>
<rect x="1039.70" y="641.12" width="41.72" height="190.64" fill="#BEBEBE" stroke="#FFFFFF" stroke-width="4.0"/>
<rect x="1081.42" y="641.12" width="41.71" height="190.64" fill="#BEBEBE" stroke="#FFFFFF" stroke-width="4.0"/>
<rect x="1123.13" y="694.08" width="41.71" height="137.68" fill="#BEBEBE" stroke="#FFFFFF" stroke-width="4.0"/>
<rect x="1164.85" y="815.40" width="41.72" height="16.36" fill="#BEBEBE" stroke="#FFFFFF" stroke-width="4.0"/>
<rect x="1248.28" y="815.40" width="41.72" height="16.36" fill="#BEBEBE" stroke="#FFFFFF" stroke-width="4.0"/>
<path d="M1206.56 831.76H1248.28" stroke="#FFFFFF" stroke-width="4.0" stroke-linecap="square" fill="none"/>
<polyline points="1047.21,736.25 1047.78,731.79 1048.35,727.31 1048.91,722.80 1049.48,718.28 1050.05,713.76 1050.62,709.23 1051.18,704.71 1051.75,700.21 1052.32,695.73 1052.89,691.27 1053.45,686.84 1054.02,682.45 1054.59,678.11 1055.16,673.81 1055.72,669.57 1056.29,665.39 1056.86,661.27 1057.43,657.21 1057.99,653.23 1058.56,649.33 1059.13,645.50 1059.70,641.75 1060.26,638.09 1060.83,634.52 1061.40,631.04 1061.97,627.66 1062.53,624.36 1063.10,621.17 1063.67,618.07 1064.24,615.08 1064.80,612.19 1065.37,609.40 1065.94,606.72 1066.51,604.14 1067.07,601.66 1067.64,599.29 1068.21,597.03 1068.78,594.88 1069.34,592.83 1069.91,590.88 1070.48,589.04 1071.05,587.31 1071.61,585.68 1072.18,584.16 1072.75,582.74 1073.32,581.42 1073.88,580.20 1074.45,579.08 1075.02,578.06 1075.59,577.14 1076.15,576.31 1076.72,575.58 1077.29,574.94 1077.86,574.39 1078.42,573.93 1078.99,573.56 1079.56,573.28 1080.13,573.08 1080.69,572.96 1081.26,572.93 1081.83,572.97 1082.40,573.10 1082.96,573.29 1083.53,573.57 1084.10,573.91 1084.67,574.32 1085.23,574.81 1085.80,575.35 1086.37,575.97 1086.94,576.64 1087.50,577.38 1088.07,578.17 1088.64,579.02 1089.21,579.92 1089.77,580.88 1090.34,581.89 1090.91,582.95 1091.48,584.06 1092.04,585.21 1092.61,586.40 1093.18,587.64 1093.75,588.92 1094.31,590.24 1094.88,591.59 1095.45,592.98 1096.02,594.41 1096.58,595.86 1097.15,597.35 1097.72,598.87 1098.29,600.41 1098.85,601.98 1099.42,603.58 1099.99,605.20 1100.56,606.84 1101.12,608.50 1101.69,610.18 1102.26,611.88 1102.83,613.60 1103.39,615.33 1103.96,617.08 1104.53,618.84 1105.10,620.61 1105.66,622.39 1106.23,624.19 1106.80,625.99 1107.37,627.80 1107.93,629.62 1108.50,631.45 1109.07,633.28 1109.64,635.11 1110.20,636.95 1110.77,638.79 1111.34,640.64 1111.91,642.48 1112.47,644.33 1113.04,646.17 1113.61,648.02 1114.18,649.86 1114.74,651.70 1115.31,653.53 1115.88,655.37 1116.45,657.20 1117.01,659.02 1117.58,660.84 1118.15,662.65 1118.72,664.46 1119.28,666.26 1119.85,668.05 1120.42,669.84 1120.99,671.62 1121.55,673.39 1122.12,675.15 1122.69,676.90 1123.26,678.64 1123.82,680.37 1124.39,682.10 1124.96,683.81 1125.53,685.51 1126.09,687.20 1126.66,688.88 1127.23,690.55 1127.80,692.20 1128.36,693.85 1128.93,695.48 1129.50,697.10 1130.07,698.71 1130.63,700.30 1131.20,701.88 1131.77,703.45 1132.34,705.01 1132.90,706.55 1133.47,708.08 1134.04,709.60 1134.61,711.11 1135.17,712.60 1135.74,714.07 1136.31,715.54 1136.88,716.99 1137.44,718.42 1138.01,719.84 1138.58,721.25 1139.15,722.65 1139.71,724.03 1140.28,725.40 1140.85,726.75 1141.42,728.09 1141.98,729.42 1142.55,730.73 1143.12,732.03 1143.69,733.32 1144.25,734.59 1144.82,735.85 1145.39,737.09 1145.96,738.32 1146.52,739.54 1147.09,740.75 1147.66,741.94 1148.23,743.12 1148.79,744.28 1149.36,745.43 1149.93,746.57 1150.50,747.70 1151.06,748.81 1151.63,749.91 1152.20,751.00 1152.77,752.07 1153.33,753.13 1153.90,754.18 1154.47,755.22 1155.04,756.24 1155.60,757.25 1156.17,758.25 1156.74,759.24 1157.31,760.22 1157.87,761.18 1158.44,762.14 1159.01,763.08 1159.58,764.00 1160.14,764.92 1160.71,765.83 1161.28,766.72 1161.85,767.61 1162.41,768.48 1162.98,769.34 1163.55,770.19 1164.12,771.03 1164.68,771.86 1165.25,772.68 1165.82,773.49 1166.39,774.29 1166.95,775.08 1167.52,775.85 1168.09,776.62 1168.66,777.38 1169.22,778.13 1169.79,778.87 1170.36,779.59 1170.93,780.31 1171.49,781.02 1172.06,781.72 1172.63,782.42 1173.20,783.10 1173.76,783.77 1174.33,784.44 1174.90,785.09 1175.47,785.74 1176.03,786.38 1176.60,787.01 1177.17,787.63 1177.74,788.24 1178.30,788.85 1178.87,789.44 1179.44,790.03 1180.01,790.61 1180.57,791.19 1181.14,791.75 1181.71,792.31 1182.28,792.86 1182.84,793.40 1183.41,793.94 1183.98,794.47 1184.55,794.99 1185.11,795.50 1185.68,796.01 1186.25,796.51 1186.82,797.00 1187.38,797.49 1187.95,797.97 1188.52,798.44 1189.09,798.91 1189.65,799.37 1190.22,799.82 1190.79,800.27 1191.35,800.71 1191.92,801.15 1192.49,801.58 1193.06,802.00 1193.62,802.42 1194.19,802.83 1194.76,803.24 1195.33,803.64 1195.89,804.04 1196.46,804.43 1197.03,804.81 1197.60,805.19 1198.16,805.57 1198.73,805.94 1199.30,806.30 1199.87,806.66 1200.43,807.01 1201.00,807.36 1201.57,807.71 1202.14,808.05 1202.70,808.38 1203.27,808.71 1203.84,809.04 1204.41,809.36 1204.97,809.67 1205.54,809.99 1206.11,810.29 1206.68,810.60 1207.24,810.90 1207.81,811.19 1208.38,811.48 1208.95,811.77 1209.51,812.05 1210.08,812.33 1210.65,812.61 1211.22,812.88 1211.78,813.15 1212.35,813.41 1212.92,813.67 1213.49,813.93 1214.05,814.18 1214.62,814.43 1215.19,814.68 1215.76,814.92 1216.32,815.16 1216.89,815.40 1217.46,815.63 1218.03,815.86 1218.59,816.08 1219.16,816.31 1219.73,816.53 1220.30,816.74 1220.86,816.96 1221.43,817.17 1222.00,817.38 1222.57,817.58 1223.13,817.78 1223.70,817.98 1224.27,818.18 1224.84,818.37 1225.40,818.57 1225.97,818.75 1226.54,818.94 1227.11,819.12 1227.67,819.30 1228.24,819.48 1228.81,819.66 1229.38,819.83 1229.94,820.00 1230.51,820.17 1231.08,820.34 1231.65,820.50 1232.21,820.66 1232.78,820.82 1233.35,820.98 1233.92,821.13 1234.48,821.29 1235.05,821.44 1235.62,821.59 1236.19,821.73 1236.75,821.88 1237.32,822.02 1237.89,822.16 1238.46,822.30 1239.02,822.43 1239.59,822.57 1240.16,822.70 1240.73,822.83 1241.29,822.96 1241.86,823.09 1242.43,823.21 1243.00,823.34 1243.56,823.46 1244.13,823.58 1244.70,823.70 1245.27,823.82 1245.83,823.93 1246.40,824.05 1246.97,824.16 1247.54,824.27 1248.10,824.38 1248.67,824.48 1249.24,824.59 1249.81,824.70 1250.37,824.80 1250.94,824.90 1251.51,825.00 1252.08,825.10 1252.64,825.20 1253.21,825.29 1253.78,825.39 1254.35,825.48 1254.91,825.57 1255.48,825.66 1256.05,825.75 1256.62,825.84 1257.18,825.93 1257.75,826.01 1258.32,826.10 1258.89,826.18 1259.45,826.27 1260.02,826.35 1260.59,826.43 1261.16,826.51 1261.72,826.58 1262.29,826.66 1262.86,826.74 1263.43,826.81 1263.99,826.88 1264.56,826.96 1265.13,827.03 1265.70,827.10 1266.26,827.17 1266.83,827.24 1267.40,827.30 1267.97,827.37 1268.53,827.44 1269.10,827.50 1269.67,827.57 1270.24,827.63 1270.80,827.69 1271.37,827.75 1271.94,827.81 1272.51,827.87 1273.07,827.93 1273.64,827.99" fill="none" stroke="#008B8B" stroke-width="8.1" stroke-linejoin="round" stroke-linecap="butt"/>
<text class="t" transform="translate(1026.89 529.80) rotate(0.03) scale(1 1.03)">EW</text>
<text class="a" text-anchor="end" transform="translate(1009.19 844.06) rotate(0.03) scale(1 1.018)">0.00</text>
<text class="a" text-anchor="end" transform="translate(1009.19 774.73) rotate(0.03) scale(1 1.018)">0.05</text>
<text class="a" text-anchor="end" transform="translate(1009.19 705.41) rotate(0.03) scale(1 1.018)">0.10</text>
<text class="a" text-anchor="end" transform="translate(1009.19 636.08) rotate(0.03) scale(1 1.018)">0.15</text>
<text class="a" text-anchor="middle" transform="translate(1085.59 886.95) rotate(0.03) scale(1 1.018)">4</text>
<text class="a" text-anchor="middle" transform="translate(1152.33 886.95) rotate(0.03) scale(1 1.018)">8</text>
<text class="a" text-anchor="middle" transform="translate(1219.08 886.95) rotate(0.03) scale(1 1.018)">12</text>
<text class="a" text-anchor="middle" transform="translate(1285.82 886.95) rotate(0.03) scale(1 1.018)">16</text>
<text class="l" text-anchor="middle" transform="translate(1164.85 935.65) rotate(0.03) scale(1 1.0)">x</text>
<text class="l" text-anchor="middle" transform="translate(926.39 703.15) rotate(-90.03) scale(1 1.0)">f(x)</text>
</g>
</svg>
</body>
</html>
